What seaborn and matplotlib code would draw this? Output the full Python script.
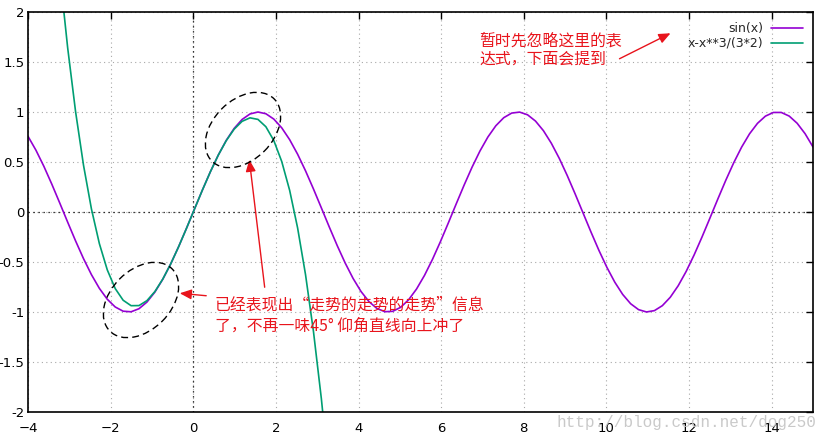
import numpy as np
import pandas as pd
import matplotlib
matplotlib.use("Agg")
import matplotlib.pyplot as plt
from matplotlib.patches import Ellipse, FancyArrowPatch
from matplotlib.ticker import FormatStrFormatter
import seaborn as sns

# ---- data ----
x_samples = np.linspace(-4, 15, 100)          # gnuplot default sampling
series_names = ["sin(x)", "x-x**3/(3*2)"]
sin_values = np.sin(x_samples)
taylor_values = x_samples - x_samples**3 / (3 * 2)
x_ticks = [-4, -2, 0, 2, 4, 6, 8, 10, 12, 14]
y_ticks = [-2, -1.5, -1, -0.5, 0, 0.5, 1, 1.5, 2]

df = pd.DataFrame({
    "x": np.concatenate([x_samples, x_samples]),
    "y": np.concatenate([sin_values, taylor_values]),
    "series": [series_names[0]] * len(x_samples) + [series_names[1]] * len(x_samples),
})

sns.set_style("white")
plt.rcParams["font.family"] = ["DejaVu Sans"]

fig = plt.figure(figsize=(8.22, 4.43), dpi=100)
ax = fig.add_axes([28 / 822, 1 - 412 / 443, (813 - 28) / 822, (412 - 12) / 443])

palette = {series_names[0]: "#9400d3", series_names[1]: "#009e73"}
sns.lineplot(data=df, x="x", y="y", hue="series", palette=palette, ax=ax,
             linewidth=1.2, sort=False, estimator=None)

ax.set_xlim(-4, 15)
ax.set_ylim(-2, 2)
ax.set_xticks(x_ticks)
ax.set_yticks(y_ticks)
ax.yaxis.set_major_formatter(FormatStrFormatter("%g"))
ax.set_xlabel("")
ax.set_ylabel("")
ax.grid(True, color="#a8a8a8", linestyle=(0, (1, 3)), linewidth=0.8)
ax.axhline(0, color="black", linestyle=(0, (1, 3)), linewidth=0.9, zorder=1)
ax.axvline(0, color="black", linestyle=(0, (1, 3)), linewidth=0.9, zorder=1)
ax.tick_params(direction="in", length=5, width=1, top=True, right=True,
               labelsize=9.5, colors="black")
ax.tick_params(axis="y", pad=2.5)
ax.tick_params(axis="x", pad=7)
for s in ax.spines.values():
    s.set_color("black")
    s.set_linewidth(1.2)

ax.legend(loc="upper right", frameon=False, markerfirst=False, fontsize=9,
          handlelength=2.6, labelspacing=0.15, borderaxespad=0.4,
          handletextpad=0.6)

red = "#e8141c"
cjk = ["Noto Sans CJK SC", "DejaVu Sans"]


def px(xp, yp):
    return xp / 822, 1 - yp / 443


fig.text(*px(479, 41), "暂时先忽略这里的表", color=red, fontsize=11.4,
         family=cjk, va="center", ha="left")
fig.text(*px(479, 59), "达式，下面会提到", color=red, fontsize=11.4,
         family=cjk, va="center", ha="left")
fig.text(*px(215, 305), "已经表现出“走势的走势的走势”信息", color=red, fontsize=11.4,
         family=cjk, va="center", ha="left")
fig.text(*px(215, 326), "了，不再一味45° 仰角直线向上冲了", color=red, fontsize=11.4,
         family=cjk, va="center", ha="left")

# arrows (figure pixel coordinates)
arrows = [((617, 60), (673, 32)), ((265, 290), (249, 157)), ((209, 296), (177, 293))]
for tail, head in arrows:
    fig.patches.append(FancyArrowPatch(
        px(*tail), px(*head), transform=fig.transFigure,
        arrowstyle="-|>,head_length=7,head_width=3", color=red,
        linewidth=1.0, mutation_scale=1))

# dashed ellipses (pixel centres)
for (cx, cy) in [(141, 300), (243, 130)]:
    e = Ellipse((cx / 100, (443 - cy) / 100), width=0.88, height=0.60, angle=45,
                transform=fig.dpi_scale_trans, fill=False, edgecolor="black",
                linestyle=(0, (5, 3)), linewidth=1.0)
    fig.patches.append(e)

# watermark
fig.text(*px(556, 423), "http://blog.csdn.net/dog250", color="#c4c4c4",
         fontsize=11.5, family=["Liberation Mono"], va="center", ha="left", alpha=0.9)

fig.savefig("out.png", dpi=100)
